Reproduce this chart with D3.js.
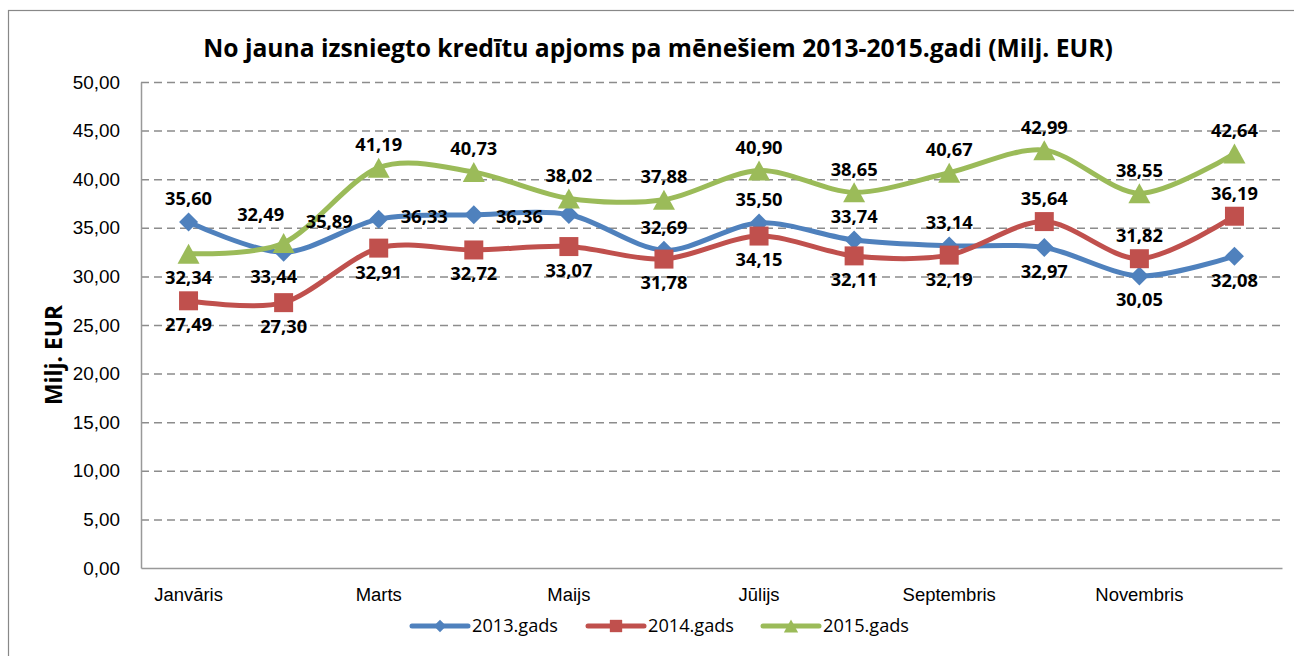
<!DOCTYPE html>
<html>
<head>
<meta charset="utf-8">
<script src="https://cdn.jsdelivr.net/npm/d3@7"></script>
<style>
  body { margin: 0; background: #fff; }
  svg { display: block; font-family: "Open Sans", "DejaVu Sans", sans-serif; }
</style>
</head>
<body>
<svg id="chart" width="1294" height="656"></svg>
<script>
// data
const months = ['Janvāris', 'Februāris', 'Marts', 'Aprīlis', 'Maijs', 'Jūnijs',
  'Jūlijs', 'Augusts', 'Septembris', 'Oktobris', 'Novembris', 'Decembris'];
const years = ['2013.gads', '2014.gads', '2015.gads'];
const values2013 = [35.60, 32.49, 35.89, 36.33, 36.36, 32.69, 35.50, 33.74, 33.14, 32.97, 30.05, 32.08];
const values2014 = [27.49, 27.30, 32.91, 32.72, 33.07, 31.78, 34.15, 32.11, 32.19, 35.64, 31.82, 36.19];
const values2015 = [32.34, 33.44, 41.19, 40.73, 38.02, 37.88, 40.90, 38.65, 40.67, 42.99, 38.55, 42.64];
const yTicks = [0, 5, 10, 15, 20, 25, 30, 35, 40, 45, 50];

// where each data label sits relative to its point
const labelPos2013 = ['above', 'aboveLeft', 'left', 'left', 'left', 'above', 'above', 'above', 'above', 'below', 'below', 'below'];
const labelPos2014 = ['below', 'below', 'below', 'below', 'below', 'below', 'below', 'below', 'below', 'above', 'above', 'above'];
const labelPos2015 = ['below', 'belowLeft', 'above', 'above', 'above', 'above', 'above', 'above', 'above', 'above', 'above', 'above'];

// label offsets [dx, dy, anchor] for each placement
const placement = {
  above: [0, -23, 'middle'],
  below: [0, 24, 'middle'],
  left: [-26, 2, 'end'],
  aboveLeft: [-23, -38, 'middle'],
  belowLeft: [-10, 34, 'middle']
};

// marker shapes (r = half size in px)
const diamond = { draw(ctx, r) { ctx.moveTo(0, -r); ctx.lineTo(r, 0); ctx.lineTo(0, r); ctx.lineTo(-r, 0); ctx.closePath(); } };
const square = { draw(ctx, r) { ctx.rect(-r, -r, 2 * r, 2 * r); } };
const triangle = { draw(ctx, r) { ctx.moveTo(0, -r); ctx.lineTo(r * 1.1, r); ctx.lineTo(-r * 1.1, r); ctx.closePath(); } };

const series = [
  { name: years[0], values: values2013, pos: labelPos2013, color: '#4F81BD', symbol: diamond, size: 9.5 },
  { name: years[1], values: values2014, pos: labelPos2014, color: '#C0504D', symbol: square, size: 9.5 },
  { name: years[2], values: values2015, pos: labelPos2015, color: '#9BBB59', symbol: triangle, size: 10 }
];

const fmt = v => d3.format('.2f')(v).replace('.', ',');

const svg = d3.select('#chart');
const m = { left: 141, right: 1282, top: 82, bottom: 568 };

// pick a font size so a sample string has the width seen in the picture
function fitSize(sample, weight, width) {
  const t = svg.append('text').attr('font-size', '100px').attr('font-weight', weight).text(sample);
  const w = t.node().getComputedTextLength();
  t.remove();
  return (100 * width / w).toFixed(2) + 'px';
}
const fsTitle = fitSize('No jauna izsniegto kredītu apjoms pa mēnešiem 2013-2015.gadi (Milj. EUR)', 'bold', 910);
const fsTick = fitSize('50,00', 'normal', 48);
const fsLabel = fitSize('35,60', 'bold', 47);
const fsCat = fitSize('Septembris', 'normal', 98);
const fsLegend = fitSize('2013.gads', 'normal', 86);
const fsYTitle = fitSize('Milj. EUR', 'bold', 100);

// outer chart border (runs off the right and bottom edges)
svg.append('rect')
  .attr('x', 8.5).attr('y', 10.5)
  .attr('width', 1400).attr('height', 800)
  .attr('fill', 'none')
  .attr('stroke', '#888')
  .attr('stroke-width', 1.2);

const x = d3.scaleBand().domain(months).range([m.left, m.right]);
const y = d3.scaleLinear().domain([0, 50]).range([m.bottom, m.top]);
const cx = d => x(d) + x.bandwidth() / 2;

// title
svg.append('text')
  .attr('x', 658).attr('y', 57)
  .attr('text-anchor', 'middle')
  .attr('font-size', fsTitle)
  .attr('font-weight', 'bold')
  .text('No jauna izsniegto kredītu apjoms pa mēnešiem 2013-2015.gadi (Milj. EUR)');

// gridlines
svg.append('g')
  .selectAll('line')
  .data(yTicks.filter(d => d > 0))
  .enter()
  .append('line')
  .attr('x1', m.left).attr('x2', m.right)
  .attr('y1', d => y(d) + 0.5).attr('y2', d => y(d) + 0.5)
  .attr('stroke', '#8c8c8c')
  .attr('stroke-width', 1.5)
  .attr('stroke-dasharray', '8,5');

// y axis
const yAxis = svg.append('g')
  .attr('transform', `translate(${m.left},0)`)
  .call(d3.axisLeft(y).tickValues(yTicks).tickFormat(fmt).tickSize(0).tickPadding(21));
yAxis.select('.domain').attr('stroke', '#999').attr('stroke-width', 1.5);
yAxis.selectAll('text').attr('font-size', fsTick).attr('fill', '#000').attr('font-family', null);

// x axis
const xAxis = svg.append('g')
  .attr('transform', `translate(0,${m.bottom})`)
  .call(d3.axisBottom(x).tickValues(months.filter((d, i) => i % 2 === 0)).tickSize(0).tickPadding(20));
xAxis.select('.domain').attr('stroke', '#999').attr('stroke-width', 1.5);
xAxis.selectAll('text').attr('font-size', fsCat).attr('fill', '#000').attr('font-family', null);

// y title
svg.append('text')
  .attr('transform', 'translate(62,355) rotate(-90)')
  .attr('text-anchor', 'middle')
  .attr('font-size', fsYTitle)
  .attr('font-weight', 'bold')
  .text('Milj. EUR');

// lines
const line = d3.line()
  .x((d, i) => cx(months[i]))
  .y(d => y(d))
  .curve(d3.curveCardinal.tension(0.1));

series.forEach(s => {
  svg.append('path')
    .datum(s.values)
    .attr('d', line)
    .attr('fill', 'none')
    .attr('stroke', s.color)
    .attr('stroke-width', 5)
    .attr('stroke-linejoin', 'round');
});

series.forEach(s => {
  svg.append('g')
    .selectAll('path')
    .data(s.values)
    .enter()
    .append('path')
    .attr('transform', (d, i) => `translate(${cx(months[i])},${y(d)})`)
    .attr('d', d3.symbol().type(s.symbol).size(s.size))
    .attr('fill', s.color);
});

// data labels
series.forEach(s => {
  svg.append('g')
    .selectAll('text')
    .data(s.values)
    .enter()
    .append('text')
    .attr('x', (d, i) => cx(months[i]) + placement[s.pos[i]][0])
    .attr('y', (d, i) => y(d) + placement[s.pos[i]][1])
    .attr('dy', '0.35em')
    .attr('text-anchor', (d, i) => placement[s.pos[i]][2])
    .attr('font-size', fsLabel)
    .attr('font-weight', 'bold')
    .attr('fill', '#000')
    .text(fmt);
});

// legend
const legendX = [412, 588, 763];
const legend = svg.append('g')
  .selectAll('g')
  .data(series)
  .enter()
  .append('g')
  .attr('transform', (d, i) => `translate(${legendX[i]},626)`);

legend.append('line')
  .attr('x1', 0).attr('x2', 56)
  .attr('stroke', d => d.color)
  .attr('stroke-width', 5)
  .attr('stroke-linecap', 'round');

legend.append('path')
  .attr('transform', 'translate(28,0)')
  .attr('d', d => d3.symbol().type(d.symbol).size(d.size * 0.65)())
  .attr('fill', d => d.color);

legend.append('text')
  .attr('x', 60)
  .attr('dy', '0.35em')
  .attr('font-size', fsLegend)
  .attr('fill', '#000')
  .text(d => d.name);
</script>
</body>
</html>
